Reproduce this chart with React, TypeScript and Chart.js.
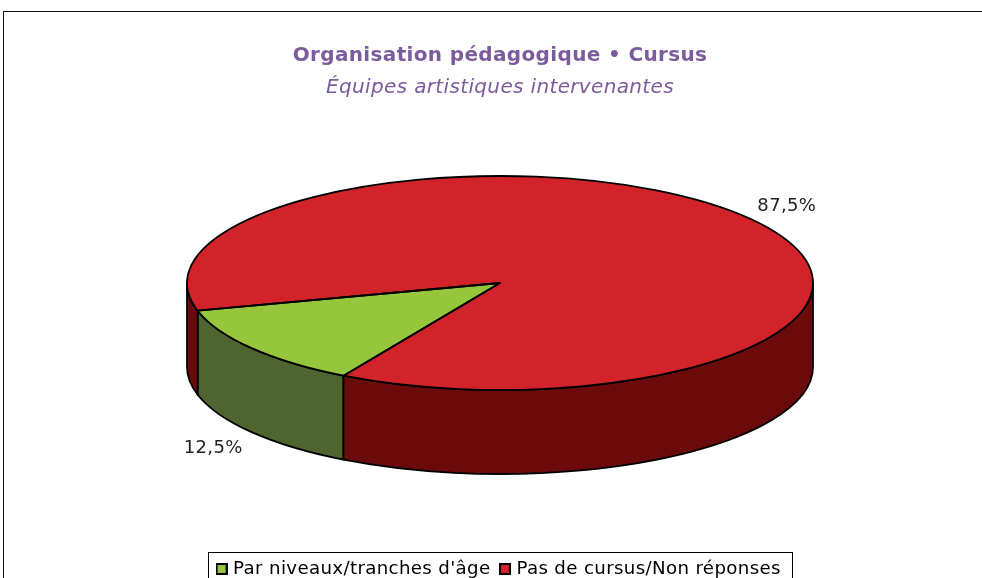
import React, { useEffect, useRef } from "react";
import { Chart, registerables } from "chart.js";

Chart.register(...registerables);

const categories = ["Par niveaux/tranches d'âge", "Pas de cursus/Non réponses"];
const shares = [12.5, 87.5];
const shareLabels = ["12,5%", "87,5%"];
const topColors = ["#95C63C", "#D2232A"];
const sideColors = ["#4F6530", "#6B0A0B"];
const titleText = "Organisation pédagogique • Cursus";
const subtitleText = "Équipes artistiques intervenantes";
const purple = "#7B5B9B";
const FONT = "'DejaVu Sans', Verdana, sans-serif";
const SPACING = "0.35px";

const RADIUS = 313;
const TILT = 107 / 313;
const DEPTH = 84;
const CENTER_Y = 283;
const EDGE = 1.8;

function slices(chart: any) {
  return chart.getDatasetMeta(0).data.map((arc: any) => arc.getProps(["x", "y", "startAngle", "endAngle"], true));
}

function pathEllipseArc(ctx: CanvasRenderingContext2D, x: number, y: number, a0: number, a1: number, ccw = false) {
  ctx.ellipse(x, y, RADIUS, RADIUS * TILT, 0, a0, a1, ccw);
}

function swatch(color: string) {
  const c = document.createElement("canvas");
  c.width = 12;
  c.height = 12;
  const g = c.getContext("2d")!;
  g.fillStyle = color;
  g.fillRect(0, 0, 12, 12);
  g.strokeStyle = "#000";
  g.lineWidth = 2;
  g.strokeRect(1, 1, 10, 10);
  return c;
}

const pie3d = {
  id: "pie3d",
  beforeUpdate(chart: any) {
    chart.ctx.letterSpacing = SPACING;
  },
  beforeDraw(chart: any) {
    const { ctx, width, height } = chart;
    ctx.letterSpacing = SPACING;
    ctx.save();
    ctx.fillStyle = "#fff";
    ctx.fillRect(0, 0, width, height);
    ctx.strokeStyle = "#111";
    ctx.lineWidth = 1;
    ctx.strokeRect(3.5, 11.5, width + 20, height + 20);
    const hits = chart.legend?.legendHitBoxes;
    if (hits && hits.length) {
      const last = hits[hits.length - 1];
      const l = Math.round(hits[0].left - 11.6) + 0.5;
      const r = Math.round(last.left + last.width + 11) + 0.5;
      ctx.strokeStyle = "#000";
      ctx.strokeRect(l, 552.5, r - l, 60);
    }
    ctx.restore();
  },
  beforeDatasetsDraw(chart: any) {
    const { ctx } = chart;
    const arcs = slices(chart);
    const TAU = Math.PI * 2;
    ctx.save();
    ctx.lineWidth = EDGE;
    ctx.strokeStyle = "#000";
    ctx.lineJoin = "round";
    arcs.forEach((arc: any, i: number) => {
      const x = arc.x;
      const y = CENTER_Y;
      for (let k = -1; k <= 1; k++) {
        const a0 = Math.max(arc.startAngle + k * TAU, 0);
        const a1 = Math.min(arc.endAngle + k * TAU, Math.PI);
        if (a1 <= a0) continue;
        ctx.beginPath();
        pathEllipseArc(ctx, x, y, a0, a1);
        pathEllipseArc(ctx, x, y + DEPTH, a1, a0, true);
        ctx.closePath();
        ctx.fillStyle = sideColors[i];
        ctx.fill();
        ctx.stroke();
      }
    });
    ctx.restore();
  },
  beforeDatasetDraw(chart: any) {
    const { ctx } = chart;
    const arc = slices(chart)[0];
    ctx.save();
    ctx.translate(arc.x, CENTER_Y);
    ctx.scale(1, TILT);
    ctx.translate(-arc.x, -arc.y);
  },
  afterDatasetDraw(chart: any) {
    const { ctx } = chart;
    ctx.restore();
    const arcs = slices(chart);
    ctx.save();
    ctx.lineWidth = EDGE;
    ctx.strokeStyle = "#000";
    ctx.lineJoin = "round";
    arcs.forEach((arc: any) => {
      ctx.beginPath();
      ctx.moveTo(arc.x, CENTER_Y);
      pathEllipseArc(ctx, arc.x, CENTER_Y, arc.startAngle, arc.endAngle);
      ctx.closePath();
      ctx.stroke();
    });
    ctx.fillStyle = "#222";
    ctx.font = `18px ${FONT}`;
    ctx.textAlign = "center";
    ctx.textBaseline = "middle";
    arcs.forEach((arc: any, i: number) => {
      const mid = (arc.startAngle + arc.endAngle) / 2;
      const c = Math.cos(mid);
      const s = Math.sin(mid);
      const px = arc.x + RADIUS * c + Math.sign(c) * 38.5;
      const py = CENTER_Y + RADIUS * TILT * s + (s > 0 ? DEPTH + 16 : -12);
      ctx.fillText(shareLabels[i], px, py);
    });
    ctx.restore();
  },
};

export default function App() {
  const ref = useRef<HTMLCanvasElement>(null);
  useEffect(() => {
    document.body.style.margin = "0";
    const chart = new Chart(ref.current!, {
      type: "pie",
      data: {
        labels: categories,
        datasets: [
          {
            data: shares,
            backgroundColor: topColors,
            borderWidth: 0,
            clip: false,
          } as any,
        ],
      },
      options: {
        responsive: false,
        animation: false,
        rotation: 210,
        radius: RADIUS,
        layout: { padding: { left: 18, right: 0, top: 0, bottom: -10.1 } },
        plugins: {
          tooltip: { enabled: false },
          title: {
            display: true,
            text: titleText,
            color: purple,
            font: { family: FONT, size: 20, weight: "bold" },
            padding: { top: 44, bottom: 7.4 },
          },
          subtitle: {
            display: true,
            text: subtitleText,
            color: purple,
            font: { family: FONT, size: 20, style: "italic", weight: "normal" },
            padding: { top: 0, bottom: 0 },
          },
          legend: {
            display: true,
            position: "bottom",
            labels: {
              color: "#222",
              boxHeight: 12,
              usePointStyle: true,
              pointStyleWidth: 4.8,
              padding: 12,
              font: { family: FONT, size: 18.2 },
              generateLabels: () =>
                categories.map((text, i) => ({
                  text,
                  fillStyle: topColors[i],
                  strokeStyle: "#000",
                  lineWidth: 1.5,
                  pointStyle: swatch(topColors[i]),
                  index: i,
                })) as any,
            },
          },
        },
      } as any,
      plugins: [pie3d as any],
    });
    return () => chart.destroy();
  }, []);
  return <canvas ref={ref} width={982} height={578} style={{ display: "block" }} />;
}
